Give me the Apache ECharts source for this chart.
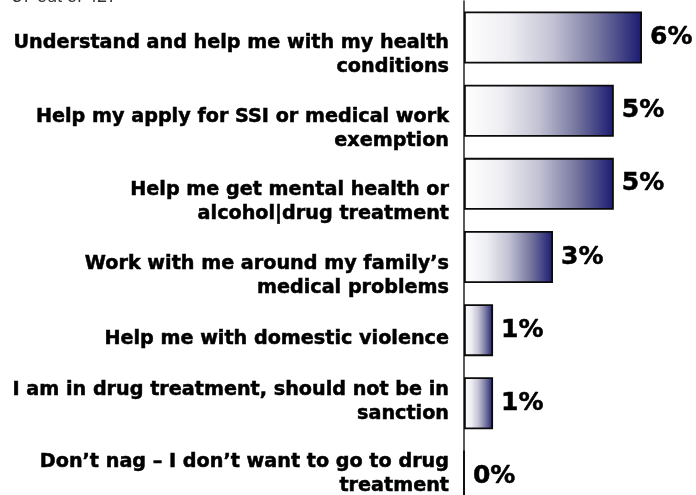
<!DOCTYPE html>
<html>
<head>
<meta charset="utf-8">
<script src="https://cdn.jsdelivr.net/npm/echarts@6/dist/echarts.min.js"></script>
<style>
  html, body { margin: 0; padding: 0; background: #ffffff; }
  #chart { width: 696px; height: 495px; }
</style>
</head>
<body>
<div id="chart"></div>
<script>
// ---- data ----
const categories = [
  "Understand and help me with my health\nconditions",
  "Help my apply for SSI or medical work\nexemption",
  "Help me get mental health or\nalcohol|drug treatment",
  "Work with me around my family\u2019s\nmedical problems",
  "Help me with domestic violence",
  "I am in drug treatment, should not be in\nsanction",
  "Don\u2019t nag \u2013 I don\u2019t want to go to drug\ntreatment"
];
const values = [6.0, 5.05, 5.05, 3.0, 0.98, 0.98, 0];
const noteText = "37 out of 427";

// ---- style ----
const labelShift = [17, 18, 18, 19, 9, -1, -2];

const chart = echarts.init(document.getElementById('chart'), null, { renderer: 'canvas' });

const rich = {};
labelShift.forEach((d, i) => {
  rich['sp' + i] = { lineHeight: Math.max(1, Math.abs(2 * d)), fontSize: 1, textBorderWidth: 0 };
});

const gradient = new echarts.graphic.LinearGradient(0, 0, 1, 0, [
  { offset: 0, color: '#ffffff' },
  { offset: 0.25, color: '#eeeef3' },
  { offset: 0.5, color: '#c2c2d4' },
  { offset: 0.75, color: '#76769f' },
  { offset: 1, color: '#1a1a72' }
]);

chart.setOption({
  animation: false,
  backgroundColor: '#ffffff',
  graphic: [{
    type: 'text',
    x: 12,
    y: 6,
    style: {
      text: noteText,
      font: '18px "Liberation Sans"',
      fill: '#333333',
      textVerticalAlign: 'bottom'
    }
  }],
  grid: { left: 464, top: 1, width: 222.5, height: 512, outerBoundsMode: 'none', containLabel: false },
  xAxis: {
    type: 'value', min: 0, max: 7.5, show: false
  },
  yAxis: {
    type: 'category',
    inverse: true,
    data: categories,
    axisLine: { show: true, lineStyle: { color: '#222222', width: 1.5 } },
    axisTick: { show: false },
    splitLine: { show: false },
    axisLabel: {
      interval: 0,
      color: '#000000',
      fontFamily: 'DejaVu Sans',
      fontWeight: 'bold',
      fontSize: 19.2,
      lineHeight: 24,
      align: 'right',
      margin: 15,
      textBorderColor: '#000000',
      textBorderWidth: 0.5,
      rich: rich,
      formatter: (val, idx) => {
        const d = labelShift[idx];
        if (d > 0) return '{sp' + idx + '| }\n' + val;
        if (d < 0) return val + '\n{sp' + idx + '| }';
        return val;
      }
    }
  },
  series: [{
    type: 'bar',
    data: values,
    barWidth: 52,
    itemStyle: { color: gradient, borderColor: '#0a0a0a', borderWidth: 1.8 },
    label: {
      show: true,
      position: 'right',
      distance: 8,
      color: '#000000',
      fontFamily: 'DejaVu Sans',
      fontWeight: 'bold',
      fontSize: 25,
      textBorderColor: '#000000',
      textBorderWidth: 0.5,
      formatter: p => Math.round(p.value) + '%'
    }
  }]
});
</script>
</body>
</html>
